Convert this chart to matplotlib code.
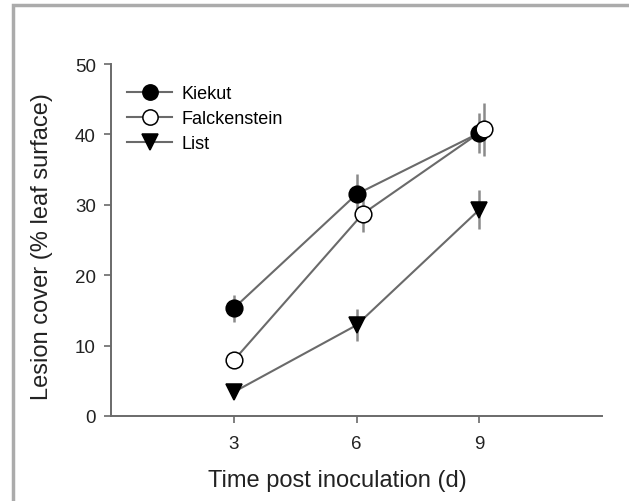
import matplotlib
matplotlib.use("Agg")
import matplotlib.pyplot as plt
from matplotlib.patches import Rectangle

plt.rcParams['font.family'] = ['Liberation Sans', 'DejaVu Sans']

# Lesion cover (% leaf surface) at 3, 6 and 9 days post inoculation
kiekut_days = [3, 6, 9]
kiekut_mean = [15.3, 31.5, 40.2]
kiekut_err = [1.9, 2.9, 2.8]

falck_days = [3, 6.15, 9.12]
falck_mean = [7.9, 28.7, 40.7]
falck_err = [0.6, 2.5, 3.8]

list_days = [3, 6, 9]
list_mean = [3.4, 12.9, 29.3]
list_err = [0.6, 2.3, 2.8]

x_ticks = [3, 6, 9]
y_ticks = [0, 10, 20, 30, 40, 50]

W, H = 629, 502
fig = plt.figure(figsize=(W / 100, H / 100), dpi=100)
ax = fig.add_axes([111 / W, (H - 417) / H, (602 - 111) / W, (417 - 65) / H])

line_col = '#6a6a6a'
err_col = '#8a8a8a'

series = [
    ('Kiekut', kiekut_days, kiekut_mean, kiekut_err, 'o', 'black'),
    ('Falckenstein', falck_days, falck_mean, falck_err, 'o', 'white'),
    ('List', list_days, list_mean, list_err, 'v', 'black'),
]

handles = []
for name, xs, ys, es, mk, fc in series:
    ax.errorbar(xs, ys, yerr=es, fmt='none', ecolor=err_col, elinewidth=1.8,
                capsize=0, zorder=2)
    ax.plot(xs, ys, color=line_col, lw=1.5, zorder=3)
    ax.plot(xs, ys, ls='none', marker=mk, markersize=12,
            markerfacecolor=fc, markeredgecolor='black', markeredgewidth=1.1,
            zorder=4)
    h, = ax.plot([], [], color=line_col, lw=1.5, marker=mk, markersize=11,
                 markerfacecolor=fc, markeredgecolor='black',
                 markeredgewidth=1.1)
    handles.append((h, name))

ax.set_xlim(0, 12)
ax.set_ylim(0, 50)
ax.set_xticks(x_ticks)
ax.set_yticks(y_ticks)

for s in ('top', 'right'):
    ax.spines[s].set_visible(False)
for s in ('left', 'bottom'):
    ax.spines[s].set_color(line_col)
    ax.spines[s].set_linewidth(1.4)

ax.tick_params(axis='both', direction='out', length=5, width=1.2,
               color=line_col, labelsize=13.5, labelcolor='#222222')
ax.tick_params(axis='x', pad=9)
ax.tick_params(axis='y', pad=6)

ax.set_xlabel('Time post inoculation (d)', fontsize=17, color='#222222')
ax.set_ylabel('Lesion cover (% leaf surface)', fontsize=17, color='#222222')
ax.xaxis.set_label_coords((337 - 111) / 491, (417 - 470) / 352)
ax.yaxis.set_label_coords((53 - 111) / 491, (417 - 247) / 352)

ax.legend([h for h, _ in handles], [n for _, n in handles],
          loc='upper left', bbox_to_anchor=((127 - 111) / 491, (417 - 86) / 352),
          frameon=False, fontsize=13, handlelength=2.5, handletextpad=0.5,
          labelspacing=0.45, borderpad=0, borderaxespad=0)

# Gray frame around the figure panel
fig.patches.append(Rectangle((13 / W, -0.1), 1.2, (H - 6) / H + 0.1,
                             transform=fig.transFigure, fill=False,
                             edgecolor='#ababab', linewidth=2.5, zorder=0))

fig.savefig('out.png', dpi=100)
